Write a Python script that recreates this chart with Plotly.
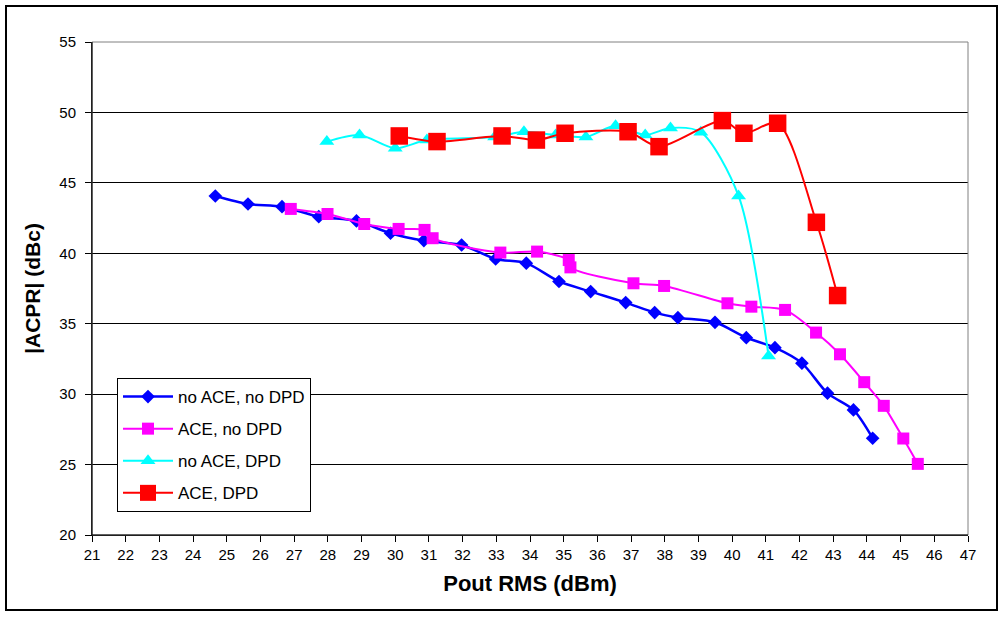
import plotly.graph_objects as go

# ---- data ----
x_noace_nodpd = [24.66, 25.63, 26.64, 27.73, 28.85, 29.86, 30.85, 31.97, 32.98, 33.89,
                 34.86, 35.80, 36.84, 37.70, 38.39, 39.49, 40.42, 41.27, 42.07, 42.83,
                 43.60, 44.17]
y_noace_nodpd = [44.07, 43.50, 43.31, 42.60, 42.30, 41.42, 40.90, 40.59, 39.60, 39.30,
                 38.00, 37.28, 36.50, 35.79, 35.43, 35.10, 34.01, 33.30, 32.20, 30.07,
                 28.88, 26.87]

x_ace_nodpd = [26.90, 27.99, 29.08, 30.10, 30.87, 31.11, 33.12, 34.21, 35.15, 35.20,
               37.07, 37.98, 39.86, 40.57, 41.57, 42.49, 43.20, 43.92, 44.50, 45.08,
               45.51]
y_ace_nodpd = [43.15, 42.79, 42.08, 41.73, 41.66, 41.07, 40.05, 40.12, 39.52, 39.00,
               37.87, 37.68, 36.45, 36.21, 35.98, 34.37, 32.83, 30.85, 29.17, 26.85,
               25.05]

x_noace_dpd = [27.97, 28.94, 30.00, 30.94, 32.95, 33.82, 34.76, 35.66, 36.54, 37.42,
               38.17, 39.07, 40.19, 41.08]
y_noace_dpd = [47.93, 48.40, 47.45, 48.04, 48.25, 48.63, 48.40, 48.26, 49.05, 48.40,
               48.90, 48.60, 44.07, 32.71]

x_ace_dpd = [30.12, 31.24, 33.17, 34.19, 35.04, 36.91, 37.83, 39.71, 40.35, 41.35,
             42.50, 43.13]
y_ace_dpd = [48.33, 47.93, 48.33, 48.04, 48.52, 48.63, 47.57, 49.42, 48.52, 49.23,
             42.20, 37.00]

series_names = ["no ACE, no DPD", "ACE, no DPD", "no ACE, DPD", "ACE, DPD"]
x_ticks = list(range(21, 48))
y_ticks = list(range(20, 56, 5))

FONT = "Arial, Liberation Sans, sans-serif"
W, H = 1004, 617
L, R, T, B = 92, 36, 42, 82

fig = go.Figure()

styles = [
    dict(color="#0000FF", symbol="diamond", size=10.5, lw=2.5),
    dict(color="#FF00FF", symbol="square", size=12, lw=2),
    dict(color="#00FFFF", symbol="triangle-up", size=13, lw=2),
    dict(color="#FF0000", symbol="square", size=17.5, lw=2),
]
data = [(x_noace_nodpd, y_noace_nodpd), (x_ace_nodpd, y_ace_nodpd),
        (x_noace_dpd, y_noace_dpd), (x_ace_dpd, y_ace_dpd)]

for i, ((xs, ys), st, name) in enumerate(zip(data, styles, series_names)):
    fig.add_trace(go.Scatter(
        x=xs, y=ys, name=name, mode="lines+markers",
        legendgroup=f"g{i}",
        line=dict(color=st["color"], width=st["lw"], shape="spline", smoothing=0.8),
        marker=dict(color=st["color"], symbol=st["symbol"], size=st["size"],
                    line=dict(width=0)),
    ))

pw = W - L - R
ph = H - T - B

fig.update_layout(
    width=W, height=H,
    margin=dict(l=L, r=R, t=T, b=B, pad=0),
    paper_bgcolor="white", plot_bgcolor="white",
    font=dict(family=FONT, color="black", size=15),
    showlegend=True,
    legend=dict(
        x=(117 - L) / pw, y=(H - B - 378) / ph, xanchor="left", yanchor="top",
        bgcolor="white", bordercolor="black", borderwidth=1,
        font=dict(family=FONT, size=17, color="black"),
        tracegroupgap=7, itemwidth=50,
    ),
    xaxis=dict(
        range=[21, 47], tickmode="array", tickvals=x_ticks,
        ticktext=[str(v) for v in x_ticks],
        showgrid=False, zeroline=False,
        showline=True, linecolor="black", linewidth=1,
        ticks="outside", ticklen=6, tickcolor="black", tickwidth=1,
        tickfont=dict(family=FONT, size=15),
        title=dict(text="<b>Pout RMS (dBm)</b>", font=dict(family=FONT, size=22), standoff=13),
    ),
    yaxis=dict(
        range=[20, 55], tickmode="array", tickvals=y_ticks,
        ticktext=[str(v) for v in y_ticks],
        showgrid=True, gridcolor="black", gridwidth=1, zeroline=False,
        showline=True, linecolor="black", linewidth=1,
        ticks="outside", ticklen=6, tickcolor="black", tickwidth=1,
        tickfont=dict(family=FONT, size=15), ticklabelstandoff=6,
        title=dict(text="<b>|ACPR| (dBc)</b>", font=dict(family=FONT, size=21), standoff=12),
    ),
)

# plot-area border (gray, top & right) and outer chart border
fig.add_shape(type="rect", xref="paper", yref="paper", x0=0, x1=1, y0=0, y1=1,
              line=dict(color="#808080", width=1), layer="above")
fig.add_shape(type="line", xref="paper", yref="paper", x0=0, x1=0, y0=0, y1=1,
              line=dict(color="black", width=1), layer="above")
fig.add_shape(type="line", xref="paper", yref="paper", x0=0, x1=1, y0=0, y1=0,
              line=dict(color="black", width=1), layer="above")
fig.add_shape(type="rect", xref="paper", yref="paper",
              x0=(6 - L) / pw, x1=(997 - L) / pw,
              y0=(H - B - 610) / ph, y1=(H - B - 6) / ph,
              line=dict(color="black", width=2), layer="above")

fig.write_html(
    "out.html",
    config={"displayModeBar": False},
    post_script="document.body.style.margin='0px';document.body.style.overflow='hidden';",
)
